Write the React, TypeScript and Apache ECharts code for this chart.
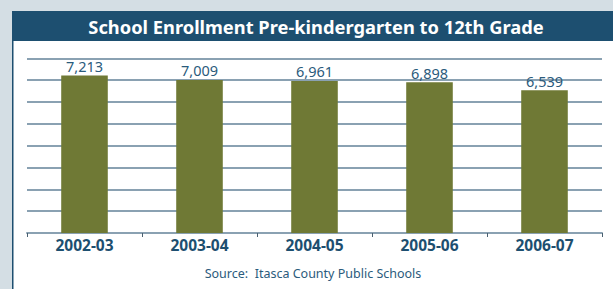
import React, { useEffect, useRef } from "react";
import * as echarts from "echarts";

const categories = ["2002-03", "2003-04", "2004-05", "2005-06", "2006-07"];
const enrollment = [7213, 7009, 6961, 6898, 6539];
const titleText = "School Enrollment Pre-kindergarten to 12th Grade";
const sourceText = "Source:  Itasca County Public Schools";

export default function App() {
  const ref = useRef<HTMLDivElement>(null);
  useEffect(() => {
    if (!ref.current) return;
    const chart = echarts.init(ref.current, null, { renderer: "svg" });
    chart.setOption({
      animation: false,
      backgroundColor: "#d4dee4",
      graphic: [
        { type: "rect", left: 12, top: 11, shape: { width: 601, height: 278 }, style: { fill: "#ffffff" }, z: -10 },
        { type: "rect", left: 12, top: 11, shape: { width: 601, height: 30 }, style: { fill: "#1d4f70" }, z: -5 },
        { type: "rect", left: 12, top: 11, shape: { width: 1.5, height: 278 }, style: { fill: "#1d4f70" }, z: -5 },
        {
          type: "text",
          x: 316,
          y: 26,
          style: {
            text: titleText,
            fill: "#ffffff",
            font: "bold 18.3px 'Noto Sans'",
            align: "center",
            verticalAlign: "middle",
          },
        },
        {
          type: "text",
          x: 313,
          y: 273,
          style: {
            text: sourceText,
            fill: "#2b5b7c",
            font: "12.5px 'Noto Sans'",
            align: "center",
            verticalAlign: "middle",
          },
        },
      ],
      grid: { left: 27, right: 11, top: 58.3, bottom: 56, containLabel: false },
      xAxis: {
        type: "category",
        data: categories,
        axisLine: { show: true, lineStyle: { color: "#8aa1b2", width: 2 } },
        axisTick: { show: true, length: 4, lineStyle: { color: "#4a6070", width: 1 }, alignWithLabel: false },
        axisLabel: {
          color: "#1d4f70",
          fontWeight: "bold",
          fontSize: 15.5,
          fontFamily: "Noto Sans",
          margin: 4,
        },
      },
      yAxis: {
        type: "value",
        min: 0,
        max: 8000,
        interval: 1000,
        axisLine: { show: false },
        axisTick: { show: false },
        axisLabel: { show: false },
        splitLine: { show: true, lineStyle: { color: "#8aa1b2", width: 2 } },
      },
      series: [
        {
          type: "bar",
          data: enrollment,
          barWidth: "40.5%",
          itemStyle: { color: "#6f7935" },
          label: {
            show: true,
            position: "top",
            distance: 2,
            color: "#2b5b7c",
            fontSize: 14.5,
            fontFamily: "Noto Sans",
            formatter: (p: any) => Number(p.value).toLocaleString("en-US"),
          },
        },
      ],
    });
    return () => chart.dispose();
  }, []);
  return <div ref={ref} style={{ position: "fixed", left: 0, top: 0, width: 613, height: 289 }} />;
}
